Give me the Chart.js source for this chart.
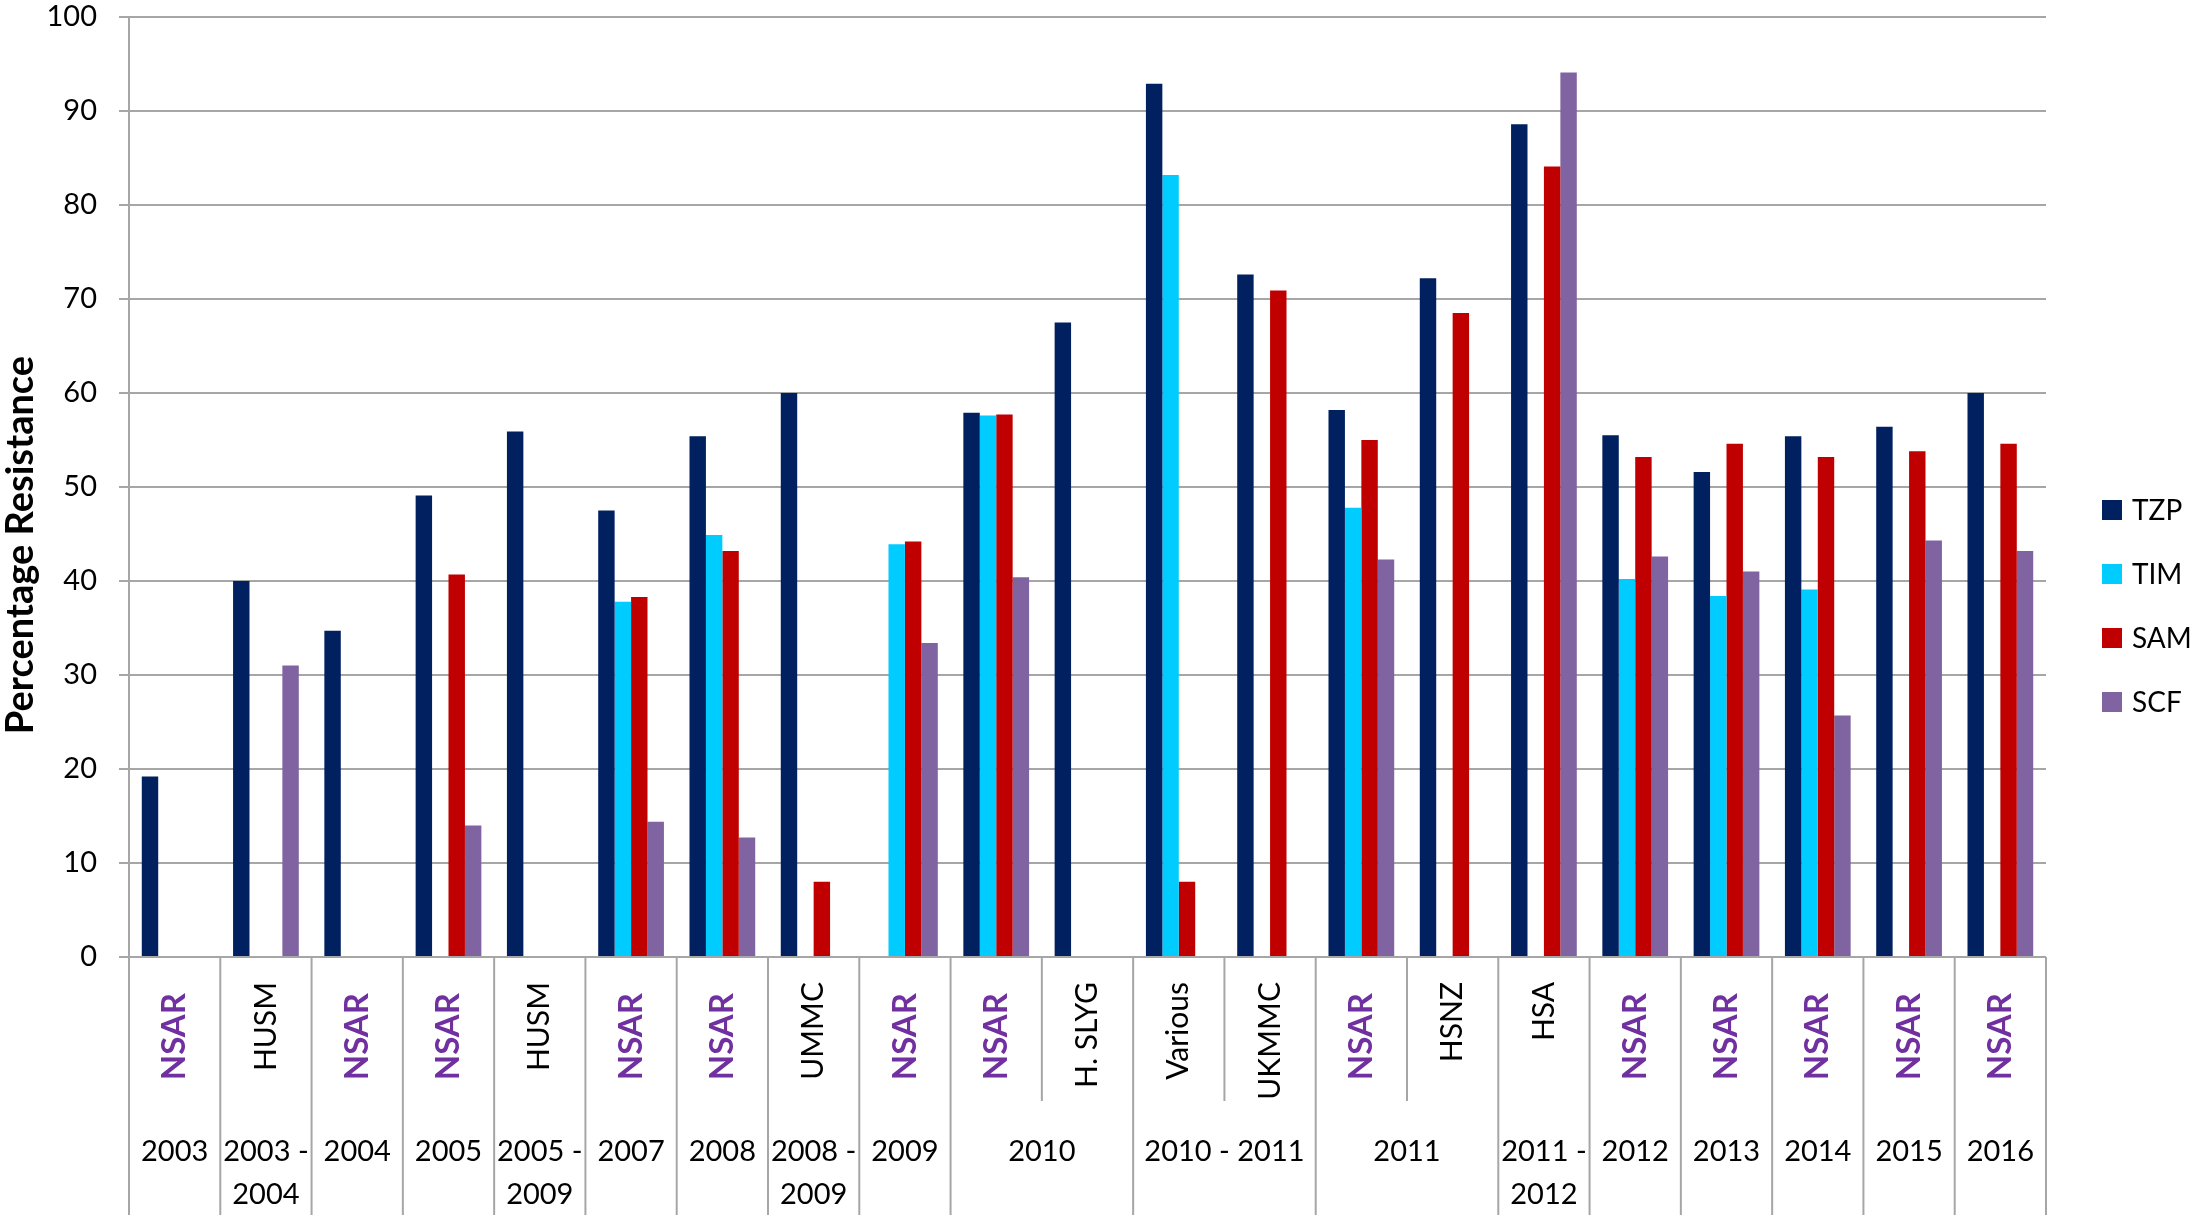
<!DOCTYPE html>
<html>
<head>
<meta charset="utf-8">
<title>Percentage Resistance</title>
<script src="https://cdn.jsdelivr.net/npm/chart.js@4.4.1/dist/chart.umd.min.js"></script>
<style>
  html, body { margin: 0; padding: 0; background: #fff; }
  #wrap { width: 2200px; height: 1221px; }
</style>
</head>
<body>
<div id="wrap"><canvas id="bar-chart" width="2200" height="1221"></canvas></div>
<script>
// sources (rotated labels) and year groups, one per category
const sources = ['NSAR', 'HUSM', 'NSAR', 'NSAR', 'HUSM', 'NSAR', 'NSAR', 'UMMC', 'NSAR', 'NSAR', 'H. SLYG',
    'Various', 'UKMMC', 'NSAR', 'HSNZ', 'HSA', 'NSAR', 'NSAR', 'NSAR', 'NSAR', 'NSAR'];
const years = ['2003', '2003 - 2004', '2004', '2005', '2005 - 2009', '2007', '2008', '2008 - 2009', '2009', '2010', '2010',
    '2010 - 2011', '2010 - 2011', '2011', '2011', '2011 - 2012', '2012', '2013', '2014', '2015', '2016'];

const tzp = [19.2, 40, 34.7, 49.1, 55.9, 47.5, 55.4, 60, null, 57.9, 67.5, 92.9, 72.6, 58.2, 72.2, 88.6, 55.5, 51.6, 55.4, 56.4, 60];
const tim = [null, null, null, null, null, 37.8, 44.9, null, 43.9, 57.6, null, 83.2, null, 47.8, null, null, 40.2, 38.4, 39.1, null, null];
const sam = [null, null, null, 40.7, null, 38.3, 43.2, 8, 44.2, 57.7, null, 8, 70.9, 55, 68.5, 84.1, 53.2, 54.6, 53.2, 53.8, 54.6];
const scf = [null, 31, null, 14, null, 14.4, 12.7, null, 33.4, 40.4, null, null, null, 42.3, null, 94.1, 42.6, 41, 25.7, 44.3, 43.2];

const yTicks = [0, 10, 20, 30, 40, 50, 60, 70, 80, 90, 100];

const FONT = 'Lato, "Open Sans", sans-serif';
const GRID = '#a6a6a6';

// two level category axis, legend and y title
const extras = {
    id: 'extras',
    afterDraw(chart) {
        const ctx = chart.ctx;
        const x = chart.scales.x;
        const area = chart.chartArea;
        const n = sources.length;
        const half = (x.getPixelForValue(1) - x.getPixelForValue(0)) / 2;
        const shortEnd = 1101, longEnd = 1215;

        ctx.save();
        ctx.strokeStyle = GRID;
        ctx.lineWidth = 2;
        for (let i = 0; i <= n; i++) {
            const px = i < n ? x.getPixelForValue(i) - half : x.getPixelForValue(n - 1) + half;
            const same = i > 0 && i < n && years[i] === years[i - 1];
            ctx.beginPath();
            ctx.moveTo(px, area.bottom);
            ctx.lineTo(px, same ? shortEnd : longEnd);
            ctx.stroke();
        }

        // source labels
        for (let i = 0; i < n; i++) {
            const cx = x.getPixelForValue(i);
            const bold = sources[i] === 'NSAR';
            ctx.save();
            ctx.translate(cx, bold ? 993 : 982);
            ctx.rotate(-Math.PI / 2);
            ctx.font = (bold ? 'bold 33px ' : '30px ') + FONT;
            ctx.fillStyle = bold ? '#7030a0' : '#000';
            ctx.textAlign = 'right';
            ctx.textBaseline = 'middle';
            ctx.fillText(sources[i], 0, 0);
            ctx.restore();
        }

        // year groups
        ctx.font = '29px ' + FONT;
        ctx.fillStyle = '#000';
        ctx.textAlign = 'center';
        ctx.textBaseline = 'alphabetic';
        let start = 0;
        for (let i = 1; i <= n; i++) {
            if (i === n || years[i] !== years[start]) {
                const left = x.getPixelForValue(start) - half;
                const right = x.getPixelForValue(i - 1) + half;
                const mid = (left + right) / 2;
                const label = years[start];
                if (ctx.measureText(label).width > right - left - 4 && label.includes(' - ')) {
                    const parts = label.split(' - ');
                    ctx.fillText(parts[0] + ' -', mid, 1161);
                    ctx.fillText(parts[1], mid, 1204);
                } else {
                    ctx.fillText(label, mid, 1161);
                }
                start = i;
            }
        }

        // legend
        const sets = chart.data.datasets;
        ctx.font = '28px ' + FONT;
        ctx.textAlign = 'left';
        ctx.textBaseline = 'middle';
        sets.forEach((ds, k) => {
            const cy = 510 + k * 64;
            ctx.fillStyle = ds.backgroundColor;
            ctx.fillRect(2102, cy - 10, 20, 20);
            ctx.fillStyle = '#000';
            ctx.fillText(ds.label, 2132, cy + 1);
        });

        // y title
        ctx.save();
        ctx.translate(21, 545);
        ctx.rotate(-Math.PI / 2);
        ctx.font = 'bold 38px ' + FONT;
        ctx.textAlign = 'center';
        ctx.textBaseline = 'middle';
        ctx.fillText('Percentage Resistance', 0, 0);
        ctx.restore();

        ctx.restore();
    }
};

new Chart(document.getElementById('bar-chart'), {
    type: 'bar',
    data: {
        labels: sources.map((s, i) => s + ' ' + years[i]),
        datasets: [
            { label: 'TZP', data: tzp, backgroundColor: '#002060' },
            { label: 'TIM', data: tim, backgroundColor: '#00ccff' },
            { label: 'SAM', data: sam, backgroundColor: '#c00000' },
            { label: 'SCF', data: scf, backgroundColor: '#8064a2' }
        ]
    },
    options: {
        responsive: false,
        animation: false,
        devicePixelRatio: 1,
        categoryPercentage: 0.72,
        barPercentage: 1.0,
        layout: { padding: { top: 17, right: 154, left: 0, bottom: 0 } },
        scales: {
            x: {
                grid: { display: false },
                border: { display: false },
                ticks: { display: false },
                afterFit: (s) => { s.height = 264; s.paddingLeft = 0; s.paddingRight = 0; }
            },
            y: {
                min: 0,
                max: 100,
                afterBuildTicks: (s) => { s.ticks = yTicks.map(v => ({ value: v })); },
                afterFit: (s) => { s.width = 129; s.paddingTop = 0; s.paddingBottom = 0; },
                grid: { color: GRID, lineWidth: 2, tickLength: 10 },
                border: { display: true, color: GRID, width: 2 },
                ticks: {
                    color: '#000',
                    padding: 22,
                    font: { family: FONT, size: 29 }
                }
            }
        },
        plugins: {
            legend: { display: false },
            tooltip: { enabled: false }
        }
    },
    plugins: [extras]
});
</script>
</body>
</html>
